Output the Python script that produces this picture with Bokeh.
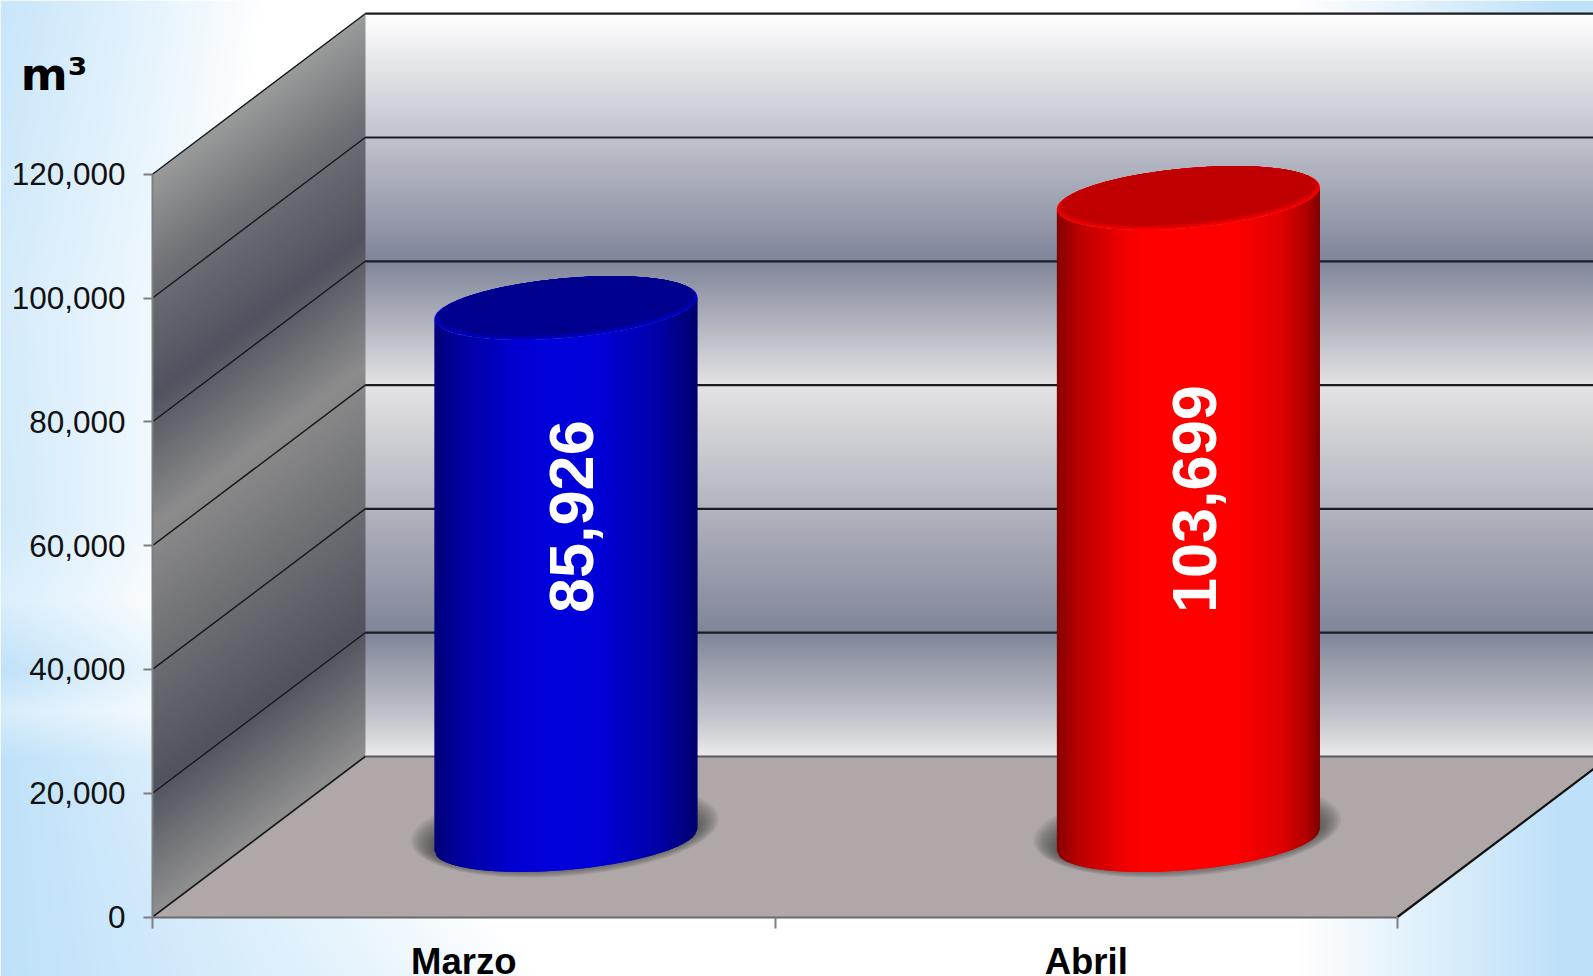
import numpy as np
from bokeh.plotting import figure
from bokeh.models import Range1d, LinearAxis, FixedTicker, NumeralTickFormatter
from bokeh.core.properties import value
from bokeh.embed import file_html
from bokeh.resources import INLINE

months = ["Marzo", "Abril"]
volumes = [85926, 103699]
y_ticks = [0, 20000, 40000, 60000, 80000, 100000, 120000]
unit_label = "m³"
bar_labels = ["85,926", "103,699"]

W, H = 1593, 976
X0, Y0 = 152.0, 916.5
PX_PER_CAT = 622.5
PX_PER_VAL = 742.8 / 120000
DEPTH_X, DEPTH_Y = 212.7, 160.5


def dx(px):
    return np.asarray(px, dtype=float) / PX_PER_CAT


def dy(px):
    return np.asarray(px, dtype=float) / PX_PER_VAL


x_range = Range1d(float(dx(-X0)), float(dx(W - X0)))
y_range = Range1d(float(dy(-(H - Y0))), float(dy(Y0)))
p = figure(width=W, height=H, x_range=x_range, y_range=y_range, output_backend="svg",
           toolbar_location=None, x_axis_type=None, y_axis_type=None,
           min_border=0, min_border_left=0, min_border_right=0, min_border_top=0, min_border_bottom=0)
p.outline_line_color = None
p.grid.visible = False
p.background_fill_color = "white"
p.border_fill_color = "white"


def hex2rgb(h):
    return np.array([int(h[i:i + 2], 16) for i in (1, 3, 5)], dtype=float)


def ramp(stops, t):
    pos = [s[0] for s in stops]
    cols = np.array([hex2rgb(s[1]) for s in stops])
    return np.stack([np.interp(t, pos, cols[:, k]) for k in range(3)], axis=-1)


def to_hex(rgb):
    return ["#%02x%02x%02x" % tuple(int(round(c)) for c in row) for row in rgb]


# page background
step = 2
gx = np.arange(0, W, step) + step / 2
gy = np.arange(0, H, step) + step / 2
X, Yp = np.meshgrid(gx, gy)
band_y = [0, 300, 520, 600, 670, 710, 760, 976]
left_w = np.interp(Yp, band_y, [260, 220, 200, 170, 230, 200, 330, 540])
left_a = np.interp(Yp, band_y, [.85, .65, .72, .55, .98, .6, 1.0, 1.0])
blend = left_a * np.clip(1 - X / left_w, 0, 1) ** 0.9
blend_r = np.clip((X - 1300) / 260, 0, 1)
blend = np.maximum(blend, blend_r)
blue = np.array([190, 225, 249.0])
rgb = 255 + (blue - 255) * blend[..., None]
img = np.zeros(X.shape, dtype=np.uint32)
view = img.view(dtype=np.uint8).reshape((*X.shape, 4))
view[..., :3] = rgb.astype(np.uint8)
view[..., 3] = 255
view[:] = view[::-1].copy()
p.image_rgba(image=[img], x=[x_range.start], y=[y_range.start],
             dw=[x_range.end - x_range.start], dh=[y_range.end - y_range.start])

DX = float(dx(DEPTH_X))
DY = float(dy(DEPTH_Y))
TOP = y_ticks[-1]

back_stops = [(0, "#ebebec"), (6000, "#c4c6cc"), (20000, "#7f8599"), (40000, "#b2b4be"), (60000, "#e3e3e5"),
              (80000, "#7f8599"), (100000, "#c0c2cc"), (120000, "#ffffff")]
side_stops = [(0, "#909090"), (21000, "#50535e"), (42000, "#6e6f74"), (63000, "#8c8c8c"),
              (84000, "#50535f"), (103000, "#6e7076"), (120000, "#9a9a9a")]

levels = np.arange(0, TOP, 400.0)
# back wall (each band overlaps the next so no seams show)
bc = to_hex(ramp(back_stops, levels + 200))
x_right = 2 + DX
p.quad(left=[DX] * len(bc), right=[x_right] * len(bc), bottom=list(levels + DY),
       top=[min(v + 1200, TOP) + DY for v in levels], fill_color=bc, line_color=None)
# side wall
coarse = np.arange(0, TOP, 400.0)
sc = to_hex(ramp(side_stops, coarse + 200))
xs = [[0, DX, DX, 0] for _ in sc]
ys = [[a, a + DY, min(a + 1200, TOP) + DY, min(a + 1200, TOP)] for a in coarse]
p.patches(xs, ys, fill_color=sc, line_color=None)
# floor
p.patch([0, DX, x_right, 2], [0, DY, DY, 0], fill_color="#b0a8a8", line_color=None)

# wall grid lines
for t in y_ticks[1:]:
    p.line([0, DX], [t, t + DY], line_color="#16171c", line_width=1.4)
    p.line([DX, x_right], [t + DY, t + DY], line_color="#1a1c22", line_width=2.2)
p.line([0, DX, x_right], [0, DY, DY], line_color="#5a5a5e", line_width=2)
p.line([0, DX], [0, DY], line_color="#111111", line_width=1.2)
p.line([2, x_right], [0, DY], line_color="#111111", line_width=2.2)

# cylinders
A, B, C = 131.5, 30.0, 11.0
FRACT = 0.48
family = [
    dict(side=[(0, "#000078"), (.08, "#000098"), (.3, "#0000d0"), (.45, "#0000dc"), (.62, "#0000d8"),
               (.85, "#0000a8"), (1, "#00006e")], rim="#0000c8", cap="#00008e"),
    dict(side=[(0, "#860000"), (.08, "#b80000"), (.25, "#f00000"), (.33, "#ff0000"), (.68, "#ff0000"),
               (.85, "#e00000"), (.95, "#b00000"), (1, "#7c0000")], rim="#f80000", cap="#c00000"),
]
tt = np.linspace(0, 2 * np.pi, 121)
base_x = [i + 0.5 + FRACT * DX for i in range(len(volumes))]
base_y = FRACT * DY


def ellipse(cx, cy, scale_a=1.0, scale_b=1.0, ox=0.0, oy=0.0):
    ex = A * scale_a * np.cos(tt)
    ey = C * np.cos(tt) + B * scale_b * np.sin(tt)
    return list(cx + dx(ex + ox)), list(cy + dy(ey + oy))


for cx, val, fam in zip(base_x, volumes, family):
    # shadow
    for k in np.linspace(1, 0, 12):
        sx, sy = ellipse(cx, base_y, 1 + 0.17 * k, 1 + 0.55 * k, -1, 3 + 7 * k)
        p.patch(sx, sy, fill_color="#3a3a3a", fill_alpha=0.085, line_color=None)
    # side: every strip reaches over its right neighbour, later strips paint over
    n = 130
    u = np.linspace(-1, 1, n + 1)
    lower = C * u - B * np.sqrt(1 - u ** 2)
    cols = to_hex(ramp(fam["side"], (u[:-1] + u[1:]) / 4 + 0.5))
    xs, ys = [], []
    for i in range(n):
        j = min(i + 2, n)
        xs.append(list(cx + dx(A * np.array([u[i], u[j], u[j], u[i]]))))
        ys.append([base_y + float(dy(lower[i])), base_y + float(dy(lower[j])),
                   base_y + val + float(dy(lower[j])), base_y + val + float(dy(lower[i]))])
    p.patches(xs, ys, fill_color=cols, line_color=None)
    # cap: soft rim that fades into the darker disc
    rim, cap = hex2rgb(fam["rim"]), hex2rgb(fam["cap"])
    for k in np.linspace(0, 1, 7):
        col = to_hex([rim + (cap - rim) * k])[0]
        ex, ey = ellipse(cx, base_y + val, 1 - 0.035 * k, 1 - 0.09 * k, 0, 2.5 * k)
        p.patch(ex, ey, fill_color=col, line_color=None)

# value labels
p.text(x=[c + float(dx(6)) for c in base_x], y=[float(dy(304))] * 2, text=bar_labels,
       angle=np.pi / 2, text_color="white", text_font=value("Liberation Sans"), text_font_style="bold",
       text_font_size="63px", text_align="left", text_baseline="middle")

# unit label
p.text(x=[float(dx(20.3 - X0))], y=[float(dy(Y0 - 74))], text=[unit_label], text_color="black",
       text_font=value("DejaVu Sans"), text_font_style="bold", text_font_size="45px",
       text_align="left", text_baseline="alphabetic")

# axes
yax = LinearAxis(fixed_location=0, ticker=FixedTicker(ticks=y_ticks), bounds=(0, TOP),
                 formatter=NumeralTickFormatter(format="0,0"))
yax.axis_line_color = "#7f7f7f"
yax.axis_line_width = 2
yax.major_tick_line_color = "#7f7f7f"
yax.major_tick_line_width = 2
yax.major_tick_out = 9
yax.major_tick_in = 0
yax.minor_tick_line_color = None
yax.major_label_standoff = 18
yax.major_label_text_font = "Liberation Sans"
yax.major_label_text_font_size = "31.5px"
yax.major_label_text_color = "#111111"
p.add_layout(yax, "left")

xax = LinearAxis(fixed_location=0, ticker=FixedTicker(ticks=[0, 1, 2]), bounds=(0, 2))
xax.axis_line_color = "#6a6a6a"
xax.axis_line_width = 2
xax.major_tick_line_color = "#7f7f7f"
xax.major_tick_line_width = 2
xax.major_tick_out = 11
xax.major_tick_in = 0
xax.minor_tick_line_color = None
xax.major_label_text_color = None
xax.major_label_text_font_size = "1px"
p.add_layout(xax, "below")

lab = LinearAxis(fixed_location=0, ticker=FixedTicker(ticks=[0.5, 1.5]), bounds=(0, 2),
                 major_label_overrides={0.5: months[0], 1.5: months[1]})
lab.axis_line_color = None
lab.major_tick_line_color = None
lab.minor_tick_line_color = None
lab.major_tick_out = 0
lab.major_tick_in = 0
lab.major_label_standoff = 24
lab.major_label_text_font = "Liberation Sans"
lab.major_label_text_font_style = "bold"
lab.major_label_text_font_size = "36.5px"
lab.major_label_text_color = "#000000"
p.add_layout(lab, "below")

open("out.html", "w").write(file_html(p, INLINE))
